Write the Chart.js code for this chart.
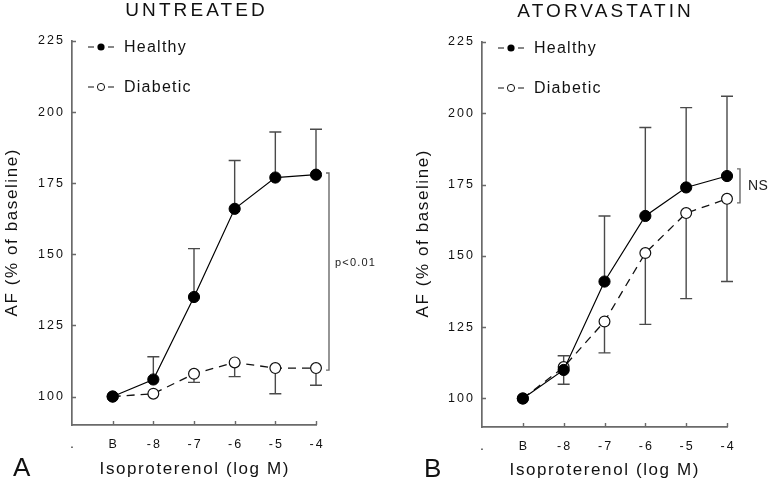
<!DOCTYPE html>
<html><head><meta charset="utf-8">
<script src="https://cdn.jsdelivr.net/npm/chart.js@4/dist/chart.umd.min.js"></script>
<style>
html,body{margin:0;padding:0;background:#fff;}
#wrap{position:relative;width:771px;height:483px;background:#fff;}
#cA{position:absolute;left:0;top:0;}
#cB{position:absolute;left:385px;top:0;}
</style></head><body>
<div id="wrap">
<canvas id="cA" width="385" height="483"></canvas>
<canvas id="cB" width="386" height="483"></canvas>
</div>
<script>
// ---- data ----
const categories = [".", "B", "-8", "-7", "-6", "-5", "-4"];
const yTicks = [100, 125, 150, 175, 200, 225];
const seriesNames = ["Healthy", "Diabetic"];
const untreatedHealthy         = [null, 100, 106, 135, 166, 177, 178];
const untreatedHealthyErrUp    = [null, null, 114, 152, 183, 193, 194];
const untreatedDiabetic        = [null, 100, 101, 108, 112, 110, 110];
const untreatedDiabeticErrLow  = [null, null, null, 105, 107, 101, 104];
const atorvaHealthy            = [null, 100, 110, 141, 164, 174, 178];
const atorvaHealthyErrUp       = [null, null, 115, 164, 195, 202, 206];
const atorvaDiabetic           = [null, 100, 111, 127, 151, 165, 170];
const atorvaDiabeticErrLow     = [null, null, 105, 116, 126, 135, 141];
const panelTitles = ["UNTREATED", "ATORVASTATIN"];
const panelLetters = ["A", "B"];
const bracketLabels = ["p<0.01", "NS"];
const untreatedBracket = [178.6, 109.3];
const atorvaBracket = [180.5, 168.6];
const xTitle = "Isoproterenol (log M)";
const yTitle = "AF (% of baseline)";

const FONT = "'Liberation Sans', Arial, Helvetica, sans-serif";
const AXIS = '#6a6a6a';
const ERR = '#4a4a4a';

function txt(ctx, s, x, y, size, spacing, align, baseline, color) {
  ctx.save();
  ctx.$ls = null;
  ctx.font = size + 'px ' + FONT;
  ctx.letterSpacing = spacing + 'px';
  ctx.fillStyle = color || '#111';
  ctx.textAlign = align || 'left';
  ctx.textBaseline = baseline || 'alphabetic';
  let dx = 0;
  if (align === 'center') dx = spacing / 2;
  if (align === 'right') dx = spacing;
  ctx.fillText(s, x + dx, y);
  ctx.restore();
}

function makeChart(canvas, P) {
  const ctx0 = canvas.getContext('2d');
  const origFill = ctx0.fillText;
  ctx0.fillText = function (s, x, y, w) {
    if (this.$ls) {
      this.letterSpacing = this.$ls;
      if (this.textAlign === 'right') x += parseFloat(this.$ls);
      else if (this.textAlign === 'center') x += parseFloat(this.$ls) / 2;
    }
    return w === undefined ? origFill.call(this, s, x, y) : origFill.call(this, s, x, y, w);
  };

  const deco = {
    id: 'deco',
    beforeDraw(chart) {
      chart.ctx.$ls = '2.1px';
    },
    beforeDatasetsDraw(chart) {
      const ctx = chart.ctx, xs = chart.scales.x, ys = chart.scales.y;
      ctx.$ls = null;
      ctx.save();
      ctx.strokeStyle = ERR; ctx.lineWidth = 1.4;
      const drawErr = (vals, errs) => {
        for (let i = 0; i < vals.length; i++) {
          if (vals[i] == null || errs[i] == null) continue;
          const x = xs.getPixelForValue(i);
          const y0 = ys.getPixelForValue(vals[i]);
          const y1 = ys.getPixelForValue(errs[i]);
          ctx.beginPath();
          ctx.moveTo(x, y0); ctx.lineTo(x, y1);
          ctx.moveTo(x - 6, y1); ctx.lineTo(x + 6, y1);
          ctx.stroke();
        }
      };
      drawErr(P.healthy, P.healthyErr);
      drawErr(P.diabetic, P.diabeticErr);
      ctx.restore();
    },
    afterDraw(chart) {
      const ctx = chart.ctx, xs = chart.scales.x, ys = chart.scales.y;
      const a = chart.chartArea;
      ctx.$ls = null;
      ctx.save();
      // inward ticks
      ctx.strokeStyle = AXIS; ctx.lineWidth = 1.4;
      ctx.beginPath();
      yTicks.forEach(v => {
        const y = Math.round(ys.getPixelForValue(v)) + 0.5;
        ctx.moveTo(a.left, y); ctx.lineTo(a.left + 4, y);
      });
      for (let i = 1; i < categories.length; i++) {
        const x = Math.round(xs.getPixelForValue(i)) + 0.5;
        ctx.moveTo(x, a.bottom); ctx.lineTo(x, a.bottom - 4);
      }
      ctx.stroke();
      // bracket
      const bt = ys.getPixelForValue(P.bracket[0]);
      const bb = ys.getPixelForValue(P.bracket[1]);
      ctx.beginPath();
      ctx.moveTo(P.bx - 3, bt); ctx.lineTo(P.bx, bt); ctx.lineTo(P.bx, bb); ctx.lineTo(P.bx - 3, bb);
      ctx.stroke();
      ctx.restore();
      txt(ctx, P.bracketLabel, P.bx + P.btx, (bt + bb) / 2 + P.bty, P.bsize, P.bspace, 'left', 'middle', '#222');
      // titles
      txt(ctx, P.title, P.titleX, P.titleY, 19, 3.1, 'center', 'middle', '#111');
      txt(ctx, xTitle, P.xtX, P.xtY, 17, 1.6, 'center', 'middle', '#111');
      ctx.save();
      ctx.translate(P.ytX, P.ytY);
      ctx.rotate(-Math.PI / 2);
      txt(ctx, yTitle, 0, 0, 17, 1.6, 'center', 'alphabetic', '#111');
      ctx.restore();
      txt(ctx, P.letter, P.letX, P.letY, 26, 0, 'left', 'alphabetic', '#111');
      // legend
      const lx = a.left;
      const rows = [[a.top + 6, true], [a.top + 46, false]];
      rows.forEach((r, k) => {
        const y = r[0];
        ctx.save();
        ctx.strokeStyle = '#111'; ctx.lineWidth = 1.2;
        ctx.beginPath();
        ctx.moveTo(lx + 16, y); ctx.lineTo(lx + 22, y);
        ctx.moveTo(lx + 36, y); ctx.lineTo(lx + 42, y);
        ctx.stroke();
        ctx.beginPath();
        ctx.arc(lx + 29, y, 3.6, 0, Math.PI * 2);
        if (r[1]) { ctx.fillStyle = '#000'; ctx.fill(); }
        else { ctx.fillStyle = '#fff'; ctx.fill(); ctx.lineWidth = 1; ctx.stroke(); }
        ctx.restore();
        txt(ctx, seriesNames[k], lx + 52, y + 1, 16, 1.25, 'left', 'middle', '#111');
      });
    }
  };

  return new Chart(canvas, {
    type: 'line',
    data: {
      labels: categories,
      datasets: [
        {
          label: seriesNames[0], data: P.healthy,
          borderColor: '#000', borderWidth: 1.2, tension: 0,
          pointRadius: 5.6, pointBackgroundColor: '#000', pointBorderColor: '#000', pointBorderWidth: 1
        },
        {
          label: seriesNames[1], data: P.diabetic,
          borderColor: '#111', borderWidth: 1.3, borderDash: [8, 6], tension: 0,
          pointRadius: 5.4, pointBackgroundColor: '#fff', pointBorderColor: '#111', pointBorderWidth: 1.2
        }
      ]
    },
    options: {
      responsive: false, animation: false, devicePixelRatio: 1,
      layout: { padding: { top: P.padTop, right: P.padRight, left: 0, bottom: 0 } },
      plugins: { legend: { display: false }, tooltip: { enabled: false }, title: { display: false } },
      scales: {
        x: {
          type: 'category', offset: false,
          grid: { display: true, drawOnChartArea: false, drawTicks: false },
          border: { display: true, color: AXIS, width: 1.7 },
          ticks: { color: '#111', font: { size: 12.5, family: FONT }, padding: 12, autoSkip: false, maxRotation: 0 },
          afterFit: s => { s.height = P.xh; }
        },
        y: {
          type: 'linear', min: 90, max: 225,
          afterBuildTicks: s => { s.ticks = yTicks.map(v => ({ value: v })); },
          grid: { display: true, drawOnChartArea: false, drawTicks: false },
          border: { display: true, color: AXIS, width: 1.7 },
          ticks: { color: '#111', font: { size: 12.5, family: FONT }, padding: 9 },
          afterFit: s => { s.width = P.yw; }
        }
      }
    },
    plugins: [deco]
  });
}

makeChart(document.getElementById('cA'), {
  healthy: untreatedHealthy, healthyErr: untreatedHealthyErrUp,
  diabetic: untreatedDiabetic, diabeticErr: untreatedDiabeticErrLow,
  bracket: untreatedBracket, bracketLabel: bracketLabels[0],
  bx: 329, btx: 6, bty: -9, bsize: 11, bspace: 1.2,
  title: panelTitles[0], titleX: 195, titleY: 11,
  xtX: 194, xtY: 469, ytX: 17, ytY: 233,
  letter: panelLetters[0], letX: 13, letY: 476,
  padTop: 41, padRight: 69, xh: 58, yw: 72
});
makeChart(document.getElementById('cB'), {
  healthy: atorvaHealthy, healthyErr: atorvaHealthyErrUp,
  diabetic: atorvaDiabetic, diabeticErr: atorvaDiabeticErrLow,
  bracket: atorvaBracket, bracketLabel: bracketLabels[1],
  bx: 355, btx: 8, bty: 0, bsize: 14, bspace: 0.5,
  title: panelTitles[1], titleX: 219, titleY: 12,
  xtX: 219, xtY: 470, ytX: 43, ytY: 234,
  letter: panelLetters[1], letX: 39, letY: 477,
  padTop: 42, padRight: 44, xh: 56, yw: 97
});
</script>
</body></html>
